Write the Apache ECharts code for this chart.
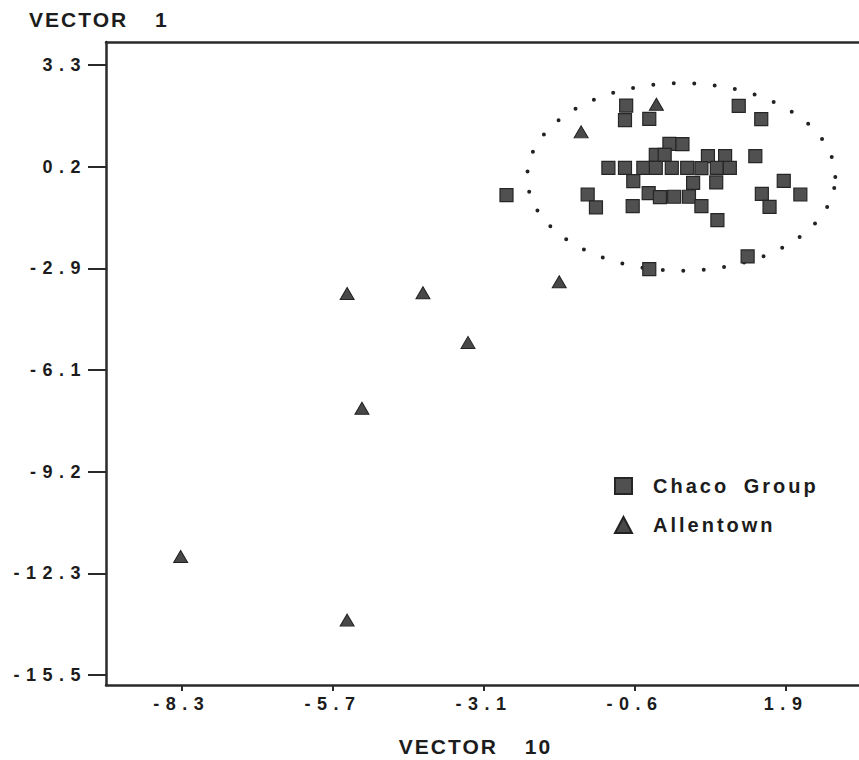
<!DOCTYPE html>
<html>
	<head>
		<meta charset="utf-8" />
		<title>Vector 10 vs Vector 1</title>
		<style type="text/css">
			html, body { margin: 0; padding: 0; background: #fff; }
			#chart { width: 859px; height: 760px; }
			/* the old plotter font is widely spaced */
			#chart text[style*="18px"] { letter-spacing: 6.5px; }
			#chart text[style*="21px"] { letter-spacing: 2px; word-spacing: 19px; }
			#chart text[style*="20px"] { letter-spacing: 3px; word-spacing: 6px; }
		</style>
	</head>
	<body>
		<div id="chart"></div>
	</body>
</html>
<script src="https://cdn.jsdelivr.net/npm/echarts@6/dist/echarts.min.js"></script>
<script>
	var xTickLabels = ['-8.3', '-5.7', '-3.1', '-0.6', '1.9'];
	var yTickLabels = ['3.3', '0.2', '-2.9', '-6.1', '-9.2', '-12.3', '-15.5'];

	var chaco = [
		[-0.80, 2.05], [1.10, 2.04], [-0.82, 1.60], [-0.41, 1.64], [1.48, 1.63],
		[-0.07, 0.87], [0.15, 0.86], [-0.30, 0.53], [-0.15, 0.53], [0.58, 0.49],
		[0.87, 0.49], [1.38, 0.49], [-1.10, 0.13], [-0.82, 0.13], [-0.51, 0.13],
		[-0.30, 0.13], [-0.03, 0.13], [0.23, 0.13], [0.47, 0.12], [0.73, 0.13],
		[0.95, 0.13], [-0.68, -0.28], [0.33, -0.33], [0.72, -0.32], [1.86, -0.27],
		[-2.82, -0.71], [-1.45, -0.69], [-0.42, -0.65], [-0.23, -0.77], [0.01, -0.76],
		[0.26, -0.76], [1.49, -0.67], [2.14, -0.69], [-1.31, -1.09], [-0.69, -1.05],
		[0.47, -1.05], [1.62, -1.07], [0.74, -1.48], [1.25, -2.60], [-0.41, -2.99]
	];
	var allentown = [
		[-5.51, -3.74], [-4.23, -3.72], [-1.93, -3.38], [-3.47, -5.25], [-5.26, -7.28],
		[-8.32, -11.85], [-5.51, -13.81], [-1.56, 1.24], [-0.29, 2.09]
	];
	// dotted ring round the Chaco group: centre x, centre y, radius x, radius y
	var ring = [[0.13, -0.15, 2.60, 2.89]];

	function spread(labels) {
		var a = parseFloat(labels[0]), b = parseFloat(labels[labels.length - 1]);
		var out = [];
		for (var i = 0; i < labels.length; i++) {
			out.push(a + (b - a) * i / (labels.length - 1));
		}
		return out;
	}
	var xTickPos = spread(xTickLabels);
	var yTickPos = spread(yTickLabels);

	function labelFor(pos, labels) {
		return function (v) {
			var best = 0;
			for (var i = 1; i < pos.length; i++) {
				if (Math.abs(pos[i] - v) < Math.abs(pos[best] - v)) best = i;
			}
			return labels[best];
		};
	}

	var ink = '#1c1c1c';
	var font = '"Liberation Sans", Arial, sans-serif';
	var myChart = echarts.init(document.getElementById('chart'), null, { renderer: 'svg' });

	var options = {
		backgroundColor: '#fff',
		animation: false,
		title: {
			text: 'VECTOR 1',
			left: 29,
			top: 9,
			padding: 0,
			textStyle: { fontFamily: font, fontSize: 21, fontWeight: 'bold', color: ink }
		},
		legend: {
			data: ['Chaco Group', 'Allentown'],
			orient: 'vertical',
			left: 614,
			top: 476,
			padding: 0,
			itemWidth: 17,
			itemHeight: 16,
			itemGap: 19,
			textStyle: { fontFamily: font, fontSize: 20, fontWeight: 'bold', color: ink, padding: [0, 0, 0, 16] }
		},
		grid: { left: 106, right: 0, top: 42, bottom: 75, outerBoundsMode: 'none' },
		xAxis: [{
			type: 'value',
			min: -9.58,
			max: 3.13,
			name: 'VECTOR 10',
			nameLocation: 'middle',
			nameGap: 51,
			nameTextStyle: { fontFamily: font, fontSize: 21, fontWeight: 'bold', color: ink, padding: [0, 14, 0, 0] },
			splitLine: { show: false },
			axisLine: { onZero: false, lineStyle: { color: '#2a2a2a', width: 2.5 } },
			axisTick: { customValues: xTickPos, length: 6, lineStyle: { color: '#2a2a2a', width: 2 } },
			axisLabel: {
				customValues: xTickPos,
				margin: 10,
				fontFamily: font, fontSize: 18, fontWeight: 'bold', color: ink,
				formatter: labelFor(xTickPos, xTickLabels)
			}
		}, {
			type: 'value',
			position: 'top',
			min: -9.58,
			max: 3.13,
			splitLine: { show: false },
			axisLine: { onZero: false, lineStyle: { color: '#2a2a2a', width: 2.5 } },
			axisTick: { show: false },
			axisLabel: { show: false }
		}],
		yAxis: {
			type: 'value',
			min: -15.81,
			max: 4.01,
			splitLine: { show: false },
			axisLine: { onZero: false, lineStyle: { color: '#2a2a2a', width: 2.5 } },
			axisTick: { customValues: yTickPos, length: 18, lineStyle: { color: '#2a2a2a', width: 2 } },
			axisLabel: {
				customValues: yTickPos,
				margin: 19,
				fontFamily: font, fontSize: 18, fontWeight: 'bold', color: ink,
				formatter: labelFor(yTickPos, yTickLabels)
			}
		},
		series: [
			{
				name: 'ring',
				type: 'custom',
				silent: true,
				data: ring,
				renderItem: function (params, api) {
					var cx = api.value(0), cy = api.value(1), rx = api.value(2), ry = api.value(3);
					var pts = [];
					for (var i = 0; i < 180; i++) {
						var t = i / 180 * Math.PI * 2;
						pts.push(api.coord([cx + rx * Math.cos(t), cy + ry * Math.sin(t)]));
					}
					return {
						type: 'polygon',
						shape: { points: pts },
						style: { fill: 'none', stroke: '#222', lineWidth: 4, lineDash: [0, 20.5], lineCap: 'round' }
					};
				}
			},
			{
				name: 'Chaco Group',
				type: 'scatter',
				symbol: 'rect',
				symbolSize: 13,
				data: chaco,
				itemStyle: { color: '#505050', borderColor: '#262626', borderWidth: 1.2, opacity: 1 }
			},
			{
				name: 'Allentown',
				type: 'scatter',
				symbol: 'triangle',
				symbolSize: [14, 12],
				data: allentown,
				itemStyle: { color: '#484848', borderColor: '#222', borderWidth: 1, opacity: 1 }
			}
		]
	};

	myChart.setOption(options);
</script>
